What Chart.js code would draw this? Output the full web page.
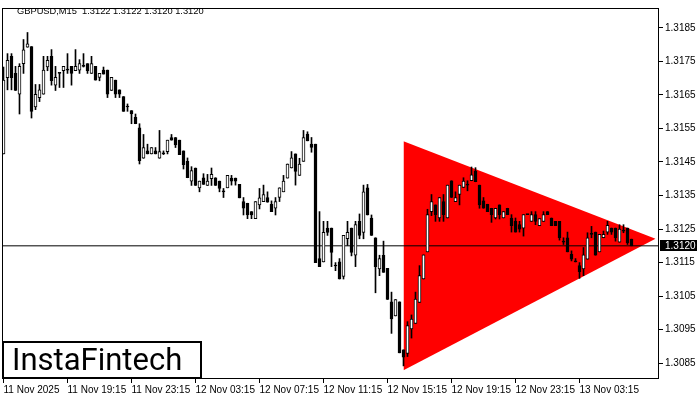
<!DOCTYPE html>
<html>
<head>
<meta charset="utf-8">
<script src="https://cdn.jsdelivr.net/npm/chart.js@4.4.1/dist/chart.umd.min.js"></script>
<style>
html, body { margin: 0; padding: 0; background: #fff; }
canvas { display: block; }
</style>
</head>
<body>
<canvas id="chart" width="700" height="400"></canvas>
<script>
// GBPUSD M15 candles (bar 0 = 11 Nov 15:15)
const opens = [
  1.31474, 1.31701, 1.31765, 1.31714, 1.31652, 1.31743, 1.31792, 1.31794, 1.31614, 1.31642,
  1.31652, 1.31733, 1.31765, 1.31679, 1.31714, 1.31722, 1.31724, 1.31735, 1.31722, 1.31724,
  1.31735, 1.31743, 1.31714, 1.31735, 1.31702, 1.31724, 1.31724, 1.31663, 1.31694, 1.31665,
  1.31645, 1.31614, 1.31603, 1.31583, 1.31552, 1.31461, 1.31483, 1.31474, 1.31483, 1.31461,
  1.31474, 1.31481, 1.31523, 1.31523, 1.31515, 1.31483, 1.31452, 1.31393, 1.31432, 1.31373,
  1.31403, 1.31380, 1.31400, 1.31403, 1.31393, 1.31361, 1.31373, 1.31402, 1.31402, 1.31383,
  1.31332, 1.31327, 1.31302, 1.31281, 1.31322, 1.31332, 1.31344, 1.31324, 1.31312, 1.31344,
  1.31361, 1.31402, 1.31432, 1.31474, 1.31410, 1.31452, 1.31533, 1.31503, 1.31503, 1.31162,
  1.31152, 1.31253, 1.31253, 1.31140, 1.31152, 1.31109, 1.31221, 1.31253, 1.31172, 1.31273,
  1.31240, 1.31373, 1.31283, 1.31224, 1.31131, 1.31172, 1.31133, 1.31033, 1.30991, 1.31033,
  1.30890, 1.30879, 1.30952, 1.30969, 1.31031, 1.31101, 1.31182, 1.31302, 1.31322, 1.31283,
  1.31332, 1.31283, 1.31394, 1.31332, 1.31353, 1.31374, 1.31381, 1.31394, 1.31423, 1.31381,
  1.31334, 1.31324, 1.31312, 1.31283, 1.31322, 1.31283, 1.31312, 1.31283, 1.31273, 1.31263,
  1.31253, 1.31293, 1.31273, 1.31293, 1.31260, 1.31273, 1.31302, 1.31283, 1.31273, 1.31273,
  1.31211, 1.31224, 1.31175, 1.31152, 1.31141, 1.31131, 1.31160, 1.31234, 1.31241, 1.31182,
  1.31224, 1.31241, 1.31253, 1.31253, 1.31211, 1.31244, 1.31253, 1.31220
];
const highs = [
  1.31733, 1.31773, 1.31773, 1.31735, 1.31743, 1.31815, 1.31836, 1.31794, 1.31681, 1.31681,
  1.31765, 1.31765, 1.31785, 1.31735, 1.31714, 1.31735, 1.31773, 1.31735, 1.31785, 1.31755,
  1.31773, 1.31743, 1.31765, 1.31735, 1.31714, 1.31733, 1.31724, 1.31702, 1.31694, 1.31665,
  1.31645, 1.31623, 1.31603, 1.31593, 1.31564, 1.31532, 1.31503, 1.31493, 1.31493, 1.31544,
  1.31483, 1.31515, 1.31532, 1.31523, 1.31515, 1.31483, 1.31462, 1.31436, 1.31432, 1.31393,
  1.31415, 1.31413, 1.31432, 1.31403, 1.31393, 1.31371, 1.31410, 1.31410, 1.31402, 1.31383,
  1.31344, 1.31327, 1.31302, 1.31332, 1.31371, 1.31381, 1.31361, 1.31334, 1.31344, 1.31373,
  1.31410, 1.31444, 1.31481, 1.31474, 1.31461, 1.31544, 1.31540, 1.31523, 1.31503, 1.31302,
  1.31273, 1.31273, 1.31253, 1.31150, 1.31162, 1.31231, 1.31273, 1.31253, 1.31273, 1.31295,
  1.31381, 1.31383, 1.31292, 1.31224, 1.31172, 1.31214, 1.31133, 1.31062, 1.31040, 1.31033,
  1.30890, 1.30974, 1.30994, 1.31062, 1.31141, 1.31173, 1.31309, 1.31353, 1.31322, 1.31344,
  1.31353, 1.31381, 1.31394, 1.31361, 1.31381, 1.31403, 1.31394, 1.31435, 1.31433, 1.31381,
  1.31344, 1.31324, 1.31312, 1.31312, 1.31322, 1.31302, 1.31312, 1.31293, 1.31283, 1.31273,
  1.31293, 1.31293, 1.31302, 1.31302, 1.31281, 1.31302, 1.31302, 1.31283, 1.31273, 1.31273,
  1.31224, 1.31241, 1.31185, 1.31162, 1.31150, 1.31195, 1.31239, 1.31258, 1.31241, 1.31234,
  1.31244, 1.31273, 1.31253, 1.31253, 1.31263, 1.31263, 1.31253, 1.31220
];
const lows = [
  1.31474, 1.31665, 1.31665, 1.31663, 1.31593, 1.31714, 1.31792, 1.31581, 1.31606, 1.31630,
  1.31652, 1.31722, 1.31679, 1.31663, 1.31672, 1.31672, 1.31714, 1.31679, 1.31722, 1.31714,
  1.31733, 1.31714, 1.31714, 1.31694, 1.31692, 1.31712, 1.31642, 1.31663, 1.31642, 1.31642,
  1.31601, 1.31601, 1.31564, 1.31564, 1.31444, 1.31461, 1.31474, 1.31474, 1.31474, 1.31461,
  1.31472, 1.31474, 1.31515, 1.31493, 1.31472, 1.31429, 1.31403, 1.31380, 1.31380, 1.31361,
  1.31383, 1.31380, 1.31380, 1.31380, 1.31361, 1.31344, 1.31373, 1.31381, 1.31381, 1.31343,
  1.31292, 1.31281, 1.31281, 1.31281, 1.31310, 1.31332, 1.31330, 1.31302, 1.31292, 1.31332,
  1.31361, 1.31402, 1.31432, 1.31381, 1.31410, 1.31452, 1.31513, 1.31479, 1.31150, 1.31138,
  1.31152, 1.31231, 1.31138, 1.31126, 1.31101, 1.31101, 1.31201, 1.31170, 1.31138, 1.31221,
  1.31221, 1.31292, 1.31231, 1.31060, 1.31111, 1.31121, 1.31040, 1.30939, 1.30991, 1.30881,
  1.30842, 1.30870, 1.30925, 1.30969, 1.31031, 1.31101, 1.31182, 1.31290, 1.31273, 1.31273,
  1.31273, 1.31283, 1.31344, 1.31332, 1.31322, 1.31374, 1.31364, 1.31394, 1.31391, 1.31312,
  1.31312, 1.31302, 1.31270, 1.31280, 1.31280, 1.31283, 1.31293, 1.31241, 1.31241, 1.31241,
  1.31229, 1.31293, 1.31273, 1.31263, 1.31260, 1.31273, 1.31293, 1.31260, 1.31260, 1.31217,
  1.31204, 1.31182, 1.31155, 1.31152, 1.31103, 1.31111, 1.31160, 1.31224, 1.31172, 1.31182,
  1.31224, 1.31234, 1.31234, 1.31214, 1.31211, 1.31239, 1.31204, 1.31200
];
const closes = [
  1.31694, 1.31753, 1.31701, 1.31663, 1.31735, 1.31784, 1.31802, 1.31601, 1.31652, 1.31665,
  1.31724, 1.31753, 1.31692, 1.31702, 1.31714, 1.31735, 1.31724, 1.31714, 1.31735, 1.31743,
  1.31735, 1.31722, 1.31743, 1.31694, 1.31714, 1.31712, 1.31652, 1.31702, 1.31652, 1.31652,
  1.31601, 1.31614, 1.31593, 1.31564, 1.31454, 1.31493, 1.31474, 1.31493, 1.31474, 1.31481,
  1.31474, 1.31515, 1.31515, 1.31501, 1.31472, 1.31442, 1.31403, 1.31424, 1.31380, 1.31393,
  1.31383, 1.31393, 1.31413, 1.31380, 1.31371, 1.31361, 1.31410, 1.31393, 1.31393, 1.31343,
  1.31312, 1.31292, 1.31292, 1.31332, 1.31343, 1.31353, 1.31330, 1.31302, 1.31332, 1.31373,
  1.31393, 1.31444, 1.31462, 1.31422, 1.31444, 1.31523, 1.31513, 1.31493, 1.31150, 1.31138,
  1.31240, 1.31240, 1.31180, 1.31140, 1.31101, 1.31231, 1.31240, 1.31180, 1.31263, 1.31231,
  1.31361, 1.31292, 1.31231, 1.31138, 1.31162, 1.31121, 1.31040, 1.30982, 1.31040, 1.30881,
  1.30868, 1.30962, 1.30982, 1.31041, 1.31111, 1.31173, 1.31293, 1.31332, 1.31293, 1.31344,
  1.31293, 1.31381, 1.31344, 1.31344, 1.31381, 1.31393, 1.31381, 1.31412, 1.31391, 1.31322,
  1.31312, 1.31302, 1.31293, 1.31312, 1.31293, 1.31302, 1.31293, 1.31260, 1.31241, 1.31250,
  1.31293, 1.31293, 1.31293, 1.31273, 1.31281, 1.31293, 1.31293, 1.31260, 1.31260, 1.31224,
  1.31211, 1.31182, 1.31160, 1.31152, 1.31123, 1.31173, 1.31224, 1.31234, 1.31172, 1.31234,
  1.31234, 1.31261, 1.31241, 1.31224, 1.31250, 1.31244, 1.31209, 1.31200
];

// x axis labels, one every 16 bars (4 hours)
const timeLabels = [
  '11 Nov 2025', '11 Nov 19:15', '11 Nov 23:15', '12 Nov 03:15', '12 Nov 07:15',
  '12 Nov 11:15', '12 Nov 15:15', '12 Nov 19:15', '12 Nov 23:15', '13 Nov 03:15'
];
const priceTicks = [1.3085, 1.3095, 1.3105, 1.3115, 1.3125, 1.3135, 1.3145, 1.3155, 1.3165, 1.3175, 1.3185];

// triangle pattern (bar index, price)
const triangleX = [100, 163];
const triangleUpper = [1.31512, 1.31221];
const triangleLower = [1.30829, 1.31221];

const lastPrice = 1.3120;
const titleText = 'GBPUSD,M15  1.3122 1.3122 1.3120 1.3120';

const bodies = opens.map((o, i) => ({ x: i, y: [o, closes[i]] }));
const wicks = opens.map((o, i) => ({ x: i, y: [lows[i], highs[i]] }));
const bodyColors = opens.map((o, i) => closes[i] > o ? '#ffffff' : '#000000');

const axisFont = { family: 'Liberation Sans', size: 10 };

const mtPlugin = {
  id: 'mtDecor',
  afterDraw(chart) {
    const ctx = chart.ctx;
    const a = chart.chartArea;
    const y = chart.scales.y;
    ctx.save();
    // frame
    ctx.strokeStyle = '#000';
    ctx.lineWidth = 1;
    ctx.strokeRect(a.left + 0.5, a.top + 0.5, a.right - a.left - 1, a.bottom - a.top - 1);

    // title
    ctx.fillStyle = '#000';
    ctx.font = '9.3px "Liberation Sans"';
    ctx.textBaseline = 'middle';
    ctx.textAlign = 'left';
    ctx.fillText(titleText, 17, 11);

    // last price label
    ctx.font = '10px "Liberation Sans"';
    const py = Math.round(y.getPixelForValue(lastPrice));
    ctx.fillStyle = '#000';
    ctx.fillRect(a.right + 1, py - 6, 37, 11);
    ctx.fillStyle = '#fff';
    ctx.fillText(lastPrice.toFixed(4), a.right + 6, py);

    // logo box
    ctx.fillStyle = '#fff';
    ctx.fillRect(a.left, 341, 199, a.bottom - 341);
    ctx.lineWidth = 2;
    ctx.strokeStyle = '#000';
    ctx.strokeRect(a.left + 1, 342, 198, a.bottom - 343);
    ctx.fillStyle = '#000';
    ctx.font = '400 31px Roboto';
    ctx.textBaseline = 'alphabetic';
    ctx.fillText('InstaFintech', 12, 370);
    ctx.restore();
  }
};

new Chart(document.getElementById('chart'), {
  type: 'bar',
  data: {
    datasets: [
      {
        type: 'bar', label: 'body', data: bodies, order: 1, grouped: false,
        barThickness: 3, minBarLength: 1,
        backgroundColor: bodyColors, borderColor: '#000', borderWidth: 1, borderSkipped: false
      },
      {
        type: 'bar', label: 'wick', data: wicks, order: 2, grouped: false,
        barThickness: 1, backgroundColor: '#000', borderWidth: 0
      },
      {
        type: 'line', label: 'bid', order: 3,
        data: [{ x: -1, y: lastPrice }, { x: 170, y: lastPrice }],
        borderColor: '#000', borderWidth: 1, pointRadius: 0, fill: false
      },
      {
        type: 'line', label: 'triUpper', order: 5,
        data: triangleX.map((x, k) => ({ x: x, y: triangleUpper[k] })),
        borderColor: '#ff0000', borderWidth: 0, pointRadius: 0, fill: false
      },
      {
        type: 'line', label: 'triLower', order: 4,
        data: triangleX.map((x, k) => ({ x: x, y: triangleLower[k] })),
        borderColor: '#ff0000', borderWidth: 0, pointRadius: 0,
        fill: '-1', backgroundColor: '#ff0000'
      }
    ]
  },
  options: {
    responsive: false,
    animation: false,
    devicePixelRatio: 1,
    layout: { padding: { left: 2, top: 3, right: 0, bottom: 0 } },
    plugins: { legend: { display: false }, tooltip: { enabled: false } },
    scales: {
      x: {
        type: 'linear', min: -0.375, max: 163.875, offset: false,
        grid: { drawOnChartArea: false, drawTicks: true, tickLength: 4, tickColor: '#000', offset: false },
        border: { display: false },
        afterBuildTicks: s => { s.ticks = timeLabels.map((t, k) => ({ value: k * 16 })); },
        afterFit: s => { s.height = 21; },
        ticks: {
          autoSkip: false, maxRotation: 0, align: 'start', padding: 1, color: '#000', font: axisFont,
          callback: v => timeLabels[Math.round(v / 16)]
        }
      },
      y: {
        position: 'right', min: 1.30803, max: 1.31909,
        grid: { drawOnChartArea: false, drawTicks: true, tickLength: 4, tickColor: '#000' },
        border: { display: false },
        afterBuildTicks: s => { s.ticks = priceTicks.map(v => ({ value: v })); },
        afterFit: s => { s.width = 41; },
        ticks: { padding: 2, color: '#000', font: axisFont, callback: v => v.toFixed(4) }
      }
    }
  },
  plugins: [mtPlugin]
});
</script>
</body>
</html>
